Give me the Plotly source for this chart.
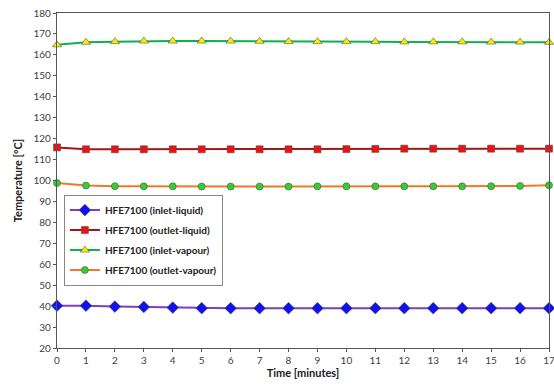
import plotly.graph_objects as go

time_min = list(range(18))
inlet_liquid = [40.2, 40.2, 39.8, 39.6, 39.3, 39.0, 39.0, 39.0, 39.0, 39.0, 39.0, 39.0, 39.0, 39.0, 39.0, 39.0, 39.0, 39.0]
outlet_liquid = [115.8, 114.9, 114.9, 114.9, 114.9, 114.9, 114.9, 114.9, 114.9, 114.9, 115.0, 115.1, 115.2, 115.2, 115.2, 115.2, 115.2, 115.2]
inlet_vapour = [164.8, 166.0, 166.3, 166.6, 166.6, 166.6, 166.6, 166.5, 166.4, 166.3, 166.3, 166.3, 166.2, 166.2, 166.2, 166.1, 166.1, 166.0]
outlet_vapour = [98.8, 97.6, 97.3, 97.2, 97.2, 97.1, 97.1, 97.1, 97.1, 97.2, 97.2, 97.2, 97.2, 97.2, 97.2, 97.3, 97.4, 97.7]

series = [
    ("HFE7100 (inlet-liquid)", inlet_liquid, "#7B3FBF", "#1010F0", "diamond", 9),
    ("HFE7100 (outlet-liquid)", outlet_liquid, "#A01818", "#F01010", "square", 7),
    ("HFE7100 (inlet-vapour)", inlet_vapour, "#10B050", "#F5F000", "triangle-up", 8),
    ("HFE7100 (outlet-vapour)", outlet_vapour, "#F07828", "#30D030", "circle", 7),
]

fig = go.Figure()
for i, (name, ys, lc, mc, sym, sz) in enumerate(series):
    fig.add_trace(go.Scatter(
        x=time_min, y=ys, name=name, mode="lines+markers", legendgroup=f"g{i}",
        line=dict(color=lc, width=2),
        marker=dict(symbol=sym, size=sz, color=mc, line=dict(color="#505050", width=0.6)),
        cliponaxis=False,
    ))

axis_common = dict(
    showgrid=False, zeroline=False, showline=True, linecolor="#555555", linewidth=1.2,
    mirror=True, ticks="outside", ticklen=3, tickcolor="#555555", automargin=False,
    ticklabeloverflow="allow",
    tickfont=dict(family="Lato, Open Sans, sans-serif", size=10, color="#404040"),
)

fig.update_layout(
    width=554, height=385,
    margin=dict(l=57, r=5, t=13, b=37),
    paper_bgcolor="white", plot_bgcolor="white",
    xaxis=dict(range=[0, 17], dtick=1, title=dict(text="Time [minutes]", standoff=2,
               font=dict(family="Lato, Open Sans, sans-serif", size=11, color="#202020", weight="bold")),
               **axis_common),
    yaxis=dict(range=[20, 180], dtick=10, title=dict(text="Temperature [°C]", standoff=8,
               font=dict(family="Lato, Open Sans, sans-serif", size=11, color="#202020", weight="bold")),
               **axis_common),
    legend=dict(x=0.014, y=0.458, xanchor="left", yanchor="top",
                bgcolor="white", bordercolor="#888888", borderwidth=1,
                font=dict(family="Lato, Open Sans, sans-serif", size=10, color="#202020", weight="bold"),
                tracegroupgap=1, itemwidth=30),
    showlegend=True,
)

# remove the browser's default 8px body margin so the figure sits at the page origin
fig.write_html("out.html", config={"displayModeBar": False},
               post_script="document.body.style.margin='0';")
